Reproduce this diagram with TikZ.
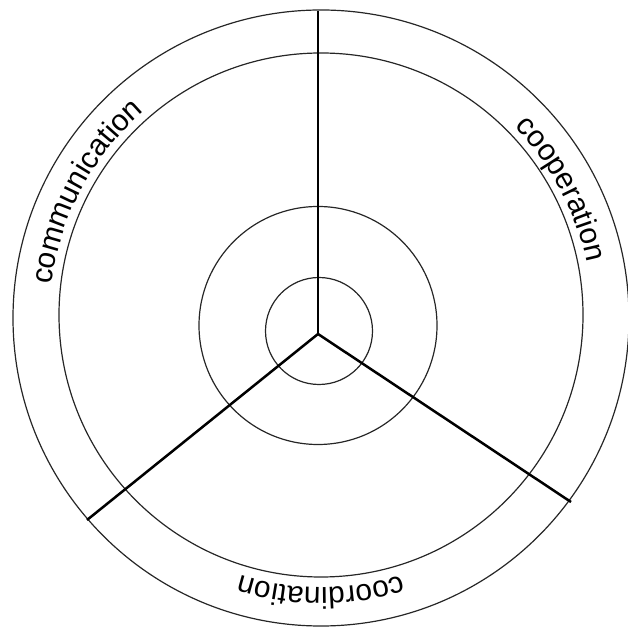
\documentclass[tikz,border=0pt]{standalone}
\usepackage{fontspec}
\setmainfont{Liberation Sans}
\usetikzlibrary{decorations.text}
\tikzset{
  ring/.style={draw=black!85, line width=1.2pt},
  spoke/.style={draw=black, line width=2.5pt}
}
\newcommand\ringsize{\fontsize{30}{36}\selectfont}
\begin{document}
\begin{tikzpicture}[x=1pt,y=1pt]
\useasboundingbox (0,0) rectangle (628,628);
\coordinate (co) at (321,310);
\coordinate (cr) at (321,313);
\coordinate (cm) at (318,302.5);
\coordinate (ci) at (319,297);
\coordinate (J) at (318,294);
\coordinate (T) at (318,617);
\coordinate (L) at (87,108);
\coordinate (R) at (571,126);
\draw[ring] (co) circle[radius=308];
\draw[ring] (cr) circle[radius=262];
\draw[ring] (cm) circle[radius=119];
\draw[ring] (ci) circle[radius=53.5];
\draw[spoke] (J) -- (T);
\draw[spoke] (J) -- (L);
\draw[spoke] (J) -- (R);
\path[decorate, decoration={text along path, text align=center,
  text={|\ringsize|communication}}]
  ([shift={(321,311.5)}]212:271) arc[start angle=212, end angle=92, radius=271];
\path[decorate, decoration={text along path, text align=center,
  text={|\ringsize|cooperation}}]
  ([shift={(321,311.5)}]88:271) arc[start angle=88, end angle=-32, radius=271];
\path[decorate, decoration={text along path, text align=center,
  text={|\ringsize|coordination}}]
  ([shift={(321,311.5)}]330:271) arc[start angle=330, end angle=210, radius=271];
\end{tikzpicture}
\end{document}
